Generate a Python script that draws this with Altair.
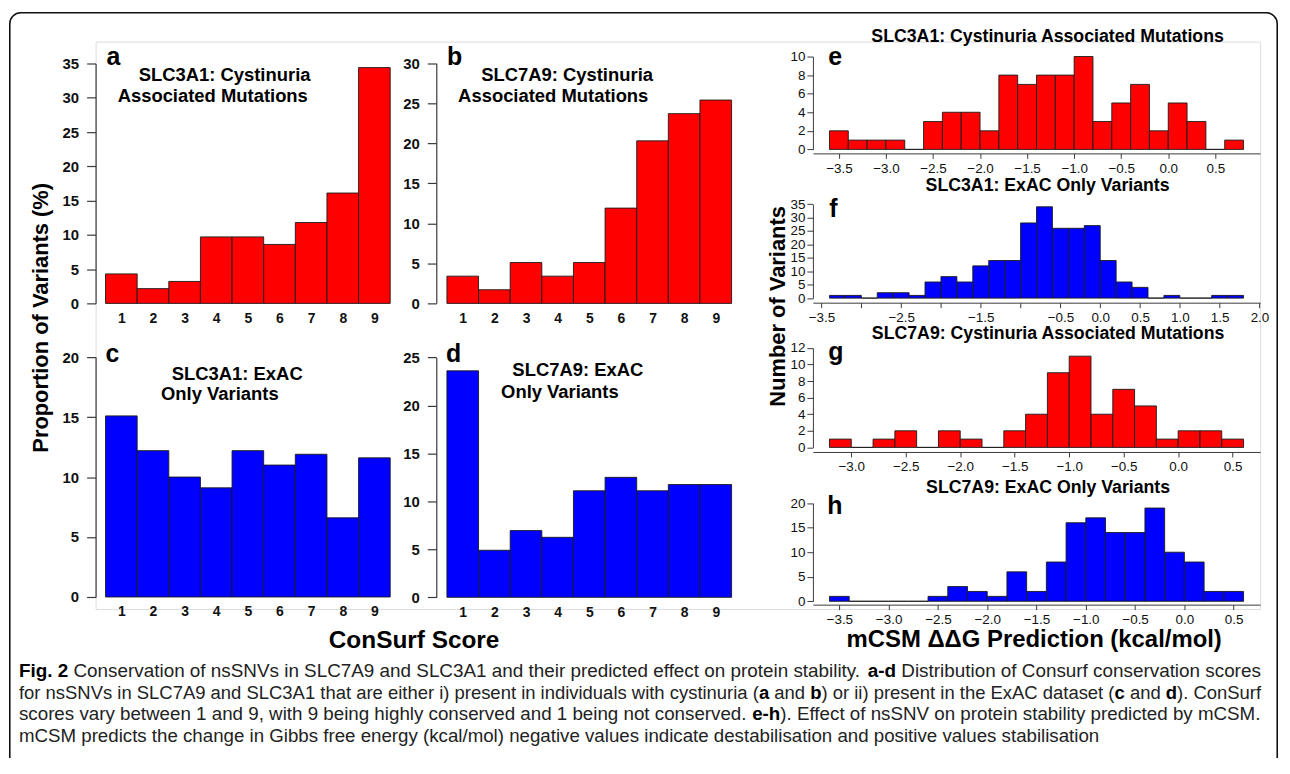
import altair as alt
import pandas as pd

# ------------------------------------------------------------------ data
consurf_scores = [1, 2, 3, 4, 5, 6, 7, 8, 9]
a_slc3a1_cystinuria = [4.3, 2.15, 3.2, 9.7, 9.7, 8.6, 11.8, 16.1, 34.4]
b_slc7a9_cystinuria = [3.4, 1.7, 5.1, 3.4, 5.1, 11.9, 20.3, 23.7, 25.4]
c_slc3a1_exac = [15.1, 12.2, 10.0, 9.1, 12.2, 11.0, 11.9, 6.6, 11.6]
d_slc7a9_exac = [23.6, 4.9, 6.95, 6.25, 11.1, 12.5, 11.1, 11.75, 11.75]

bin_width = 0.2
e_first_bin = -3.6
e_counts = [2, 1, 1, 1, 0, 3, 4, 4, 2, 8, 7, 8, 8, 10, 3, 5, 7, 2, 5, 3, 0, 1]
f_first_bin = -3.4
f_counts = [1, 1, 0, 2, 2, 1, 6, 8, 6, 12, 14, 14, 28, 34, 26, 26, 27, 14, 6, 4,
            0, 1, 0, 0, 1, 1]
g_first_bin = -3.2
g_counts = [1, 0, 1, 2, 0, 2, 1, 0, 2, 4, 9, 11, 4, 7, 5, 1, 2, 2, 1]
h_first_bin = -3.6
h_counts = [1, 0, 0, 0, 0, 1, 3, 2, 1, 6, 2, 8, 16, 17, 14, 14, 19, 10, 8, 2, 2]

e_xticks = [-3.5, -3.0, -2.5, -2.0, -1.5, -1.0, -0.5, 0.0, 0.5]
f_xticks = [-3.5, -3.0, -2.5, -2.0, -1.5, -1.0, -0.5, 0.0, 0.5, 1.0, 1.5, 2.0]
g_xticks = [-3.0, -2.5, -2.0, -1.5, -1.0, -0.5, 0.0, 0.5]
h_xticks = [-3.5, -3.0, -2.5, -2.0, -1.5, -1.0, -0.5, 0.0, 0.5]
e_yticks = [0, 2, 4, 6, 8, 10]
f_yticks = [0, 5, 10, 15, 20, 25, 30, 35]
g_yticks = [0, 2, 4, 6, 8, 10, 12]
h_yticks = [0, 5, 10, 15, 20]

caption_lines = [
    [("Fig. 2", True),
     (" Conservation of nsSNVs in SLC7A9 and SLC3A1 and their predicted effect on "
      "protein stability. ", False),
     ("a-d", True),
     (" Distribution of Consurf conservation scores", False)],
    [("for nsSNVs in SLC7A9 and SLC3A1 that are either i) present in individuals "
      "with cystinuria (", False),
     ("a", True), (" and ", False), ("b", True),
     (") or ii) present in the ExAC dataset (", False),
     ("c", True), (" and ", False), ("d", True), ("). ConSurf", False)],
    [("scores vary between 1 and 9, with 9 being highly conserved and 1 being not "
      "conserved. ", False),
     ("e-h", True),
     ("). Effect of nsSNV on protein stability predicted by mCSM.", False)],
    [("mCSM predicts the change in Gibbs free energy (kcal/mol) negative values "
      "indicate destabilisation and positive values stabilisation", False)],
]

# ------------------------------------------------------------------ layout
OX, OY = 96, 40          # page position of the plot-area origin
W, H = 1170, 570         # plot area
PAD = {"left": OX - 8, "top": OY - 8, "right": 1280 - (OX - 8) - W,
       "bottom": 750 - (OY - 8) - H}

RED, BLUE, EDGE = "#ff0000", "#0000ff", "#1a1a1a"
AXC = "#3a3a3a"
FONT = "Liberation Sans"


def vx(x):
    return x - OX


def vy(y):
    return y - OY


def left_panel(values, color, x_px, y0_px, ytop_px, ymax, yaxis_px):
    df = pd.DataFrame({"score": consurf_scores, "pct": values})
    df["lo"] = df["score"] - 0.5
    df["hi"] = df["score"] + 0.5
    return alt.Chart(df).mark_rect(fill=color, stroke=EDGE, strokeWidth=0.9).encode(
        x=alt.X("lo:Q",
                scale=alt.Scale(domain=[0.5, 9.5], range=[vx(x_px[0]), vx(x_px[1])],
                                nice=False, zero=False),
                axis=alt.Axis(orient="bottom", offset=vy(y0_px) - H, values=consurf_scores,
                              format="d", domain=False, ticks=False, grid=False,
                              labelFontSize=14, labelFontWeight="bold", labelColor="#111",
                              labelPadding=8, labelFlush=False, labelOverlap=False,
                              labelFont=FONT, title=None)),
        x2="hi:Q",
        y=alt.Y("pct:Q",
                scale=alt.Scale(domain=[0, ymax], range=[vy(y0_px), vy(ytop_px)],
                                nice=False, zero=False),
                axis=alt.Axis(orient="left", offset=-vx(yaxis_px),
                              values=list(range(0, ymax + 1, 5)), format="d",
                              grid=False, domainColor=AXC, tickColor=AXC, tickSize=9,
                              domainWidth=1.2, tickWidth=1.2,
                              labelFontSize=15, labelFontWeight="bold", labelColor="#111",
                              labelPadding=8, labelFlush=False, labelOverlap=False,
                              labelFont=FONT, title=None)),
        y2=alt.datum(0),
    )


RIGHT_X = [vx(816.7), vx(1266.0)]


def right_panel(first_bin, counts, color, xdomain, xticks, hidden, axis_y_px,
                y0_px, ytop_px, yticks):
    lo = [round(first_bin + i * bin_width, 2) for i in range(len(counts))]
    df = pd.DataFrame({"lo": lo, "n": counts})
    df["hi"] = df["lo"] + bin_width
    if hidden:
        expr = ("indexof(%s, datum.value) >= 0 ? '' : format(datum.value, '.1f')"
                % str(hidden))
    else:
        expr = "format(datum.value, '.1f')"
    return alt.Chart(df).mark_rect(fill=color, stroke=EDGE, strokeWidth=0.9).encode(
        x=alt.X("lo:Q",
                scale=alt.Scale(domain=xdomain, range=RIGHT_X, nice=False, zero=False),
                axis=alt.Axis(orient="bottom", offset=vy(axis_y_px) - H, values=xticks,
                              labelExpr=expr, grid=False, domainColor=AXC,
                              tickColor=AXC, tickSize=5, labelFontSize=13.5,
                              labelColor="#111", labelPadding=3, labelFlush=False,
                              labelOverlap=False, labelFont=FONT, title=None)),
        x2="hi:Q",
        y=alt.Y("n:Q",
                scale=alt.Scale(domain=[0, yticks[-1]], range=[vy(y0_px), vy(ytop_px)],
                                nice=False, zero=False),
                axis=alt.Axis(orient="left", offset=-RIGHT_X[0], values=yticks,
                              format="d", grid=False, domainColor=AXC, tickColor=AXC,
                              tickSize=6, labelFontSize=13.5, labelColor="#111",
                              labelPadding=2, labelFlush=False, labelOverlap=False,
                              labelFont=FONT, title=None)),
        y2=alt.datum(0),
    )


DUMMY = pd.DataFrame({"k": [0]})


def txt(s, x, y, size, weight="normal", align="center", baseline="middle",
        angle=0, font=FONT, color="#000"):
    return alt.Chart(DUMMY).mark_text(
        text=s, fontSize=size, fontWeight=weight, align=align, baseline=baseline,
        angle=angle, font=font, color=color,
    ).encode(x=alt.value(vx(x)), y=alt.value(vy(y)))


panels = [
    left_panel(a_slc3a1_cystinuria, RED, (106, 392), 303, 62, 35, 96),
    left_panel(b_slc7a9_cystinuria, RED, (449, 735), 303, 61.7, 30, 438.3),
    left_panel(c_slc3a1_exac, BLUE, (106, 392), 598, 357, 20, 96),
    left_panel(d_slc7a9_exac, BLUE, (449, 735), 598.3, 357.3, 25, 438.3),
    right_panel(e_first_bin, e_counts, RED, [-3.776, 0.976], e_xticks, None,
                152.3, 148.3, 55, e_yticks),
    right_panel(f_first_bin, f_counts, BLUE, [-3.608, 2.008], f_xticks, [-3, -2, -1],
                302.3, 297.7, 203.3, f_yticks),
    right_panel(g_first_bin, g_counts, RED, [-3.352, 0.752], g_xticks, None,
                452.3, 447.7, 347.7, g_yticks),
    right_panel(h_first_bin, h_counts, BLUE, [-3.768, 0.768], h_xticks, None,
                605.7, 602.3, 503.7, h_yticks),
]

TS = 18.5
texts = [
    # panel titles
    txt("SLC3A1: Cystinuria", 225.6, 73.3, TS, "bold"),
    txt("Associated Mutations", 213.7, 95, TS, "bold"),
    txt("SLC7A9: Cystinuria", 569.7, 73.3, TS, "bold"),
    txt("Associated Mutations", 555.8, 95, TS, "bold"),
    txt("SLC3A1: ExAC", 238.3, 374.3, TS, "bold"),
    txt("Only Variants", 220.8, 394, TS, "bold"),
    txt("SLC7A9: ExAC", 580.5, 370, TS, "bold"),
    txt("Only Variants", 562.5, 391.7, TS, "bold"),
    txt("SLC3A1: Cystinuria Associated Mutations", 1052.5, 35, 17.8, "bold"),
    txt("SLC3A1: ExAC Only Variants", 1052.5, 185, 17.8, "bold"),
    txt("SLC7A9: Cystinuria Associated Mutations", 1053, 334, 17.8, "bold"),
    txt("SLC7A9: ExAC Only Variants", 1053, 488.3, 17.8, "bold"),
    # panel letters
    txt("a", 107, 63, 25, "bold", "left", "alphabetic"),
    txt("b", 449, 63, 25, "bold", "left", "alphabetic"),
    txt("c", 106, 362, 25, "bold", "left", "alphabetic"),
    txt("d", 448, 362, 25, "bold", "left", "alphabetic"),
    txt("e", 832, 63, 25, "bold", "left", "alphabetic"),
    txt("f", 833, 216.5, 25, "bold", "left", "alphabetic"),
    txt("g", 832, 360, 25, "bold", "left", "alphabetic"),
    txt("h", 831, 515, 25, "bold", "left", "alphabetic"),
    # axis titles
    txt("Proportion of Variants (%)", 41, 317.5, 22, "bold", angle=270),
    txt("Number of Variants", 782, 306, 22, "bold", angle=270),
    txt("ConSurf Score", 416, 642, 24.5, "bold"),
    txt("mCSM \u0394\u0394G Prediction (kcal/mol)", 1039, 641.5, 24, "bold"),
]

# --- caption: justified lines built from Helvetica/Arial advance widths
REG = {" ": 278, "(": 333, ")": 333, "-": 333, ".": 278, ",": 278, "/": 278,
       ":": 278, "%": 889}
REG.update({d: 556 for d in "0123456789"})
REG.update(dict(zip("ABCDEFGHIJKLMNOPQRSTUVWXYZ",
                    [667, 667, 722, 722, 667, 611, 778, 722, 278, 500, 667, 556, 833,
                     722, 778, 667, 778, 722, 667, 611, 722, 667, 944, 667, 667, 611])))
REG.update(dict(zip("abcdefghijklmnopqrstuvwxyz",
                    [556, 556, 500, 556, 556, 278, 556, 556, 222, 222, 500, 222, 833,
                     556, 556, 556, 556, 333, 500, 278, 556, 500, 722, 500, 500, 500])))
BOLD = {" ": 278, "-": 333, ".": 278, "2": 556, "F": 611, "i": 278, "g": 611,
        "a": 556, "b": 611, "c": 556, "d": 611, "e": 556, "h": 611}


def em(s, bold):
    tbl = BOLD if bold else REG
    return sum(tbl.get(ch, 556) for ch in s) / 1000.0


CAP_X0, CAP_X1 = 19.0, 1267.0
CAP_Y = [672, 694, 716, 738]
CAP_COLOR = "#222"
sizes = [(CAP_X1 - CAP_X0) / sum(em(t, b) for t, b in line) for line in caption_lines[:3]]
base_fs = sum(sizes) / len(sizes)
cap_layers = []
for li, line in enumerate(caption_lines):
    fs = sizes[li] if li < 3 else base_fs
    x = CAP_X0
    for t, b in line:
        lead = len(t) - len(t.lstrip(" "))
        trail = len(t) - len(t.rstrip(" "))
        core = t.strip(" ")
        x += lead * 0.278 * fs
        cap_layers.append(txt(core, x, CAP_Y[li], fs, "bold" if b else "normal",
                              "left", "middle", color="#000" if b else CAP_COLOR))
        x += em(core, b) * fs + trail * 0.278 * fs

frame = alt.Chart(DUMMY).mark_rect(
    fillOpacity=0, stroke="#111", strokeWidth=1.6, cornerRadius=11
).encode(x=alt.value(vx(9.8)), x2=alt.value(vx(1283.2)),
         y=alt.value(vy(11)), y2=alt.value(vy(820)))

chart = alt.layer(frame, *panels, *texts, *cap_layers).resolve_scale(
    x="independent", y="independent"
).properties(
    width=W, height=H, padding=PAD,
    autosize=alt.AutoSizeParams(type="none"),
).configure_view(strokeWidth=0).configure(font=FONT)

chart.save("out.html", embed_options={"renderer": "svg", "actions": False})
